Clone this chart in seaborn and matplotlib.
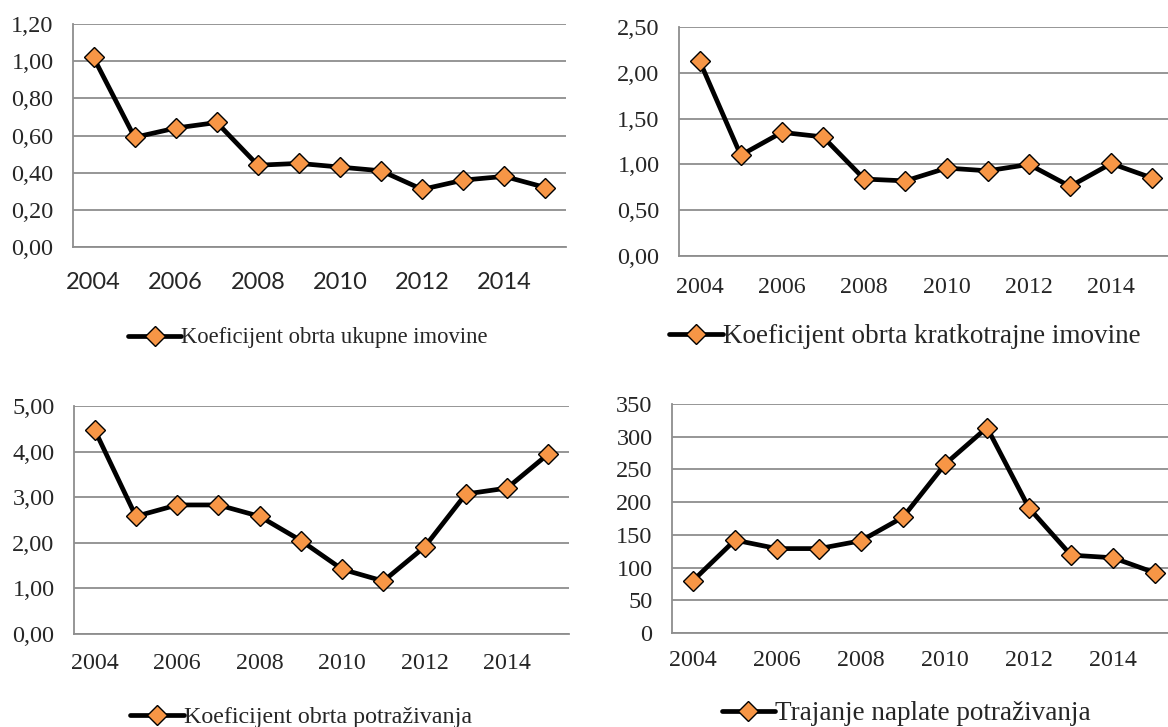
import numpy as np
import pandas as pd
import matplotlib
matplotlib.use("Agg")
import matplotlib.pyplot as plt
import seaborn as sns

# ---------------- data ----------------
years = list(range(2004, 2016))
tick_years = [2004, 2006, 2008, 2010, 2012, 2014]

ukupne_imovine = [1.02, 0.59, 0.64, 0.67, 0.44, 0.45, 0.43, 0.41, 0.31, 0.36, 0.38, 0.32]
kratkotrajne_imovine = [2.13, 1.10, 1.35, 1.30, 0.84, 0.82, 0.96, 0.93, 1.00, 0.76, 1.01, 0.85]
obrt_potrazivanja = [4.48, 2.58, 2.83, 2.83, 2.58, 2.05, 1.42, 1.16, 1.91, 3.07, 3.20, 3.95]
trajanje_naplate = [80, 142, 129, 129, 141, 177, 258, 314, 191, 119, 115, 92]

labels = ["Koeficijent obrta ukupne imovine",
          "Koeficijent obrta kratkotrajne imovine",
          "Koeficijent obrta potraživanja",
          "Trajanje naplate potraživanja"]

yticks_list = [[0, 0.2, 0.4, 0.6, 0.8, 1.0, 1.2],
               [0, 0.5, 1.0, 1.5, 2.0, 2.5],
               [0, 1, 2, 3, 4, 5],
               [0, 50, 100, 150, 200, 250, 300, 350]]

# ---------------- style ----------------
sns.set_style("white")
plt.rcParams['font.family'] = ['Liberation Serif', 'DejaVu Serif']

W, H = 1168, 727
fig = plt.figure(figsize=(W / 100, H / 100), dpi=100)

GRID = '#8e8e8e'
ORANGE = '#F79646'

def px_axes(x0, x1, ytop, ybot):
    return [x0 / W, 1 - ybot / H, (x1 - x0) / W, (ybot - ytop) / H]

comma2 = lambda v: f"{v:.2f}".replace('.', ',')

panels = [
    dict(vals=ukupne_imovine, label=labels[0], pos=px_axes(73, 566, 24, 247),
         yt=yticks_list[0], fmt=comma2,
         xfont=['Lato', 'DejaVu Sans'], xsize=17, xpad=18,
         leg=(308, 338), legsize=16.3, hl=2.35),
    dict(vals=kratkotrajne_imovine, label=labels[1], pos=px_axes(679, 1173, 27, 256),
         yt=yticks_list[1], fmt=comma2,
         xfont=['Liberation Serif'], xsize=17.3, xpad=15,
         leg=(905, 337), legsize=19.5, hl=2.0),
    dict(vals=obrt_potrazivanja, label=labels[2], pos=px_axes(74, 569, 406, 634),
         yt=yticks_list[2], fmt=comma2,
         xfont=['Liberation Serif'], xsize=17.3, xpad=14,
         leg=(301, 717), legsize=17.3, hl=2.25),
    dict(vals=trajanje_naplate, label=labels[3], pos=px_axes(672, 1176, 404, 633),
         yt=yticks_list[3], fmt=lambda v: f"{int(v)}",
         xfont=['Liberation Serif'], xsize=17.3, xpad=12,
         leg=(906, 714), legsize=19.5, hl=1.95),
]

for p in panels:
    ax = fig.add_axes(p['pos'])
    df = pd.DataFrame({"Godina": years, "Vrijednost": p['vals']})
    sns.lineplot(data=df, x="Godina", y="Vrijednost", ax=ax, color='black',
                 linewidth=3.4, marker='D', markersize=10,
                 markerfacecolor=ORANGE, markeredgecolor='black',
                 markeredgewidth=1.0, label=p['label'], zorder=5)
    ax.set_xlabel("")
    ax.set_ylabel("")
    ax.set_xlim(2003.5, 2015.5)
    ax.set_ylim(p['yt'][0], p['yt'][-1])
    ax.set_yticks(p['yt'])
    ax.set_yticklabels([p['fmt'](v) for v in p['yt']], fontsize=17.5,
                       family=['Liberation Serif'])
    # category boundary ticks (major) and label positions (minor)
    ax.set_xticks(np.arange(2003.5, 2016.0, 1.0))
    ax.set_xticklabels([])
    ax.set_xticks(tick_years, minor=True)
    ax.set_xticklabels([str(y) for y in tick_years], minor=True,
                       fontsize=p['xsize'], family=p['xfont'])
    ax.tick_params(axis='x', which='major', length=6, width=1.3, color=GRID,
                   direction='out')
    ax.tick_params(axis='x', which='minor', length=0, pad=p['xpad'])
    ax.tick_params(axis='y', which='major', length=5, width=1.3, color=GRID,
                   direction='out', pad=9)
    ax.yaxis.grid(True, color=GRID, linewidth=1.3)
    ax.xaxis.grid(False)
    ax.set_axisbelow(True)
    for s in ['top', 'right']:
        ax.spines[s].set_visible(False)
    for s in ['left', 'bottom']:
        ax.spines[s].set_color(GRID)
        ax.spines[s].set_linewidth(1.3)
    ax.set_facecolor('white')
    handles, labs = ax.get_legend_handles_labels()
    ax.legend(handles, labs, loc='center',
              bbox_to_anchor=(p['leg'][0] / W, 1 - p['leg'][1] / H),
              bbox_transform=fig.transFigure, frameon=False,
              handlelength=p['hl'], handletextpad=0.0,
              borderpad=0, borderaxespad=0,
              prop={'family': 'Liberation Serif', 'size': p['legsize']})

fig.savefig("out.png", dpi=100, facecolor='white')
